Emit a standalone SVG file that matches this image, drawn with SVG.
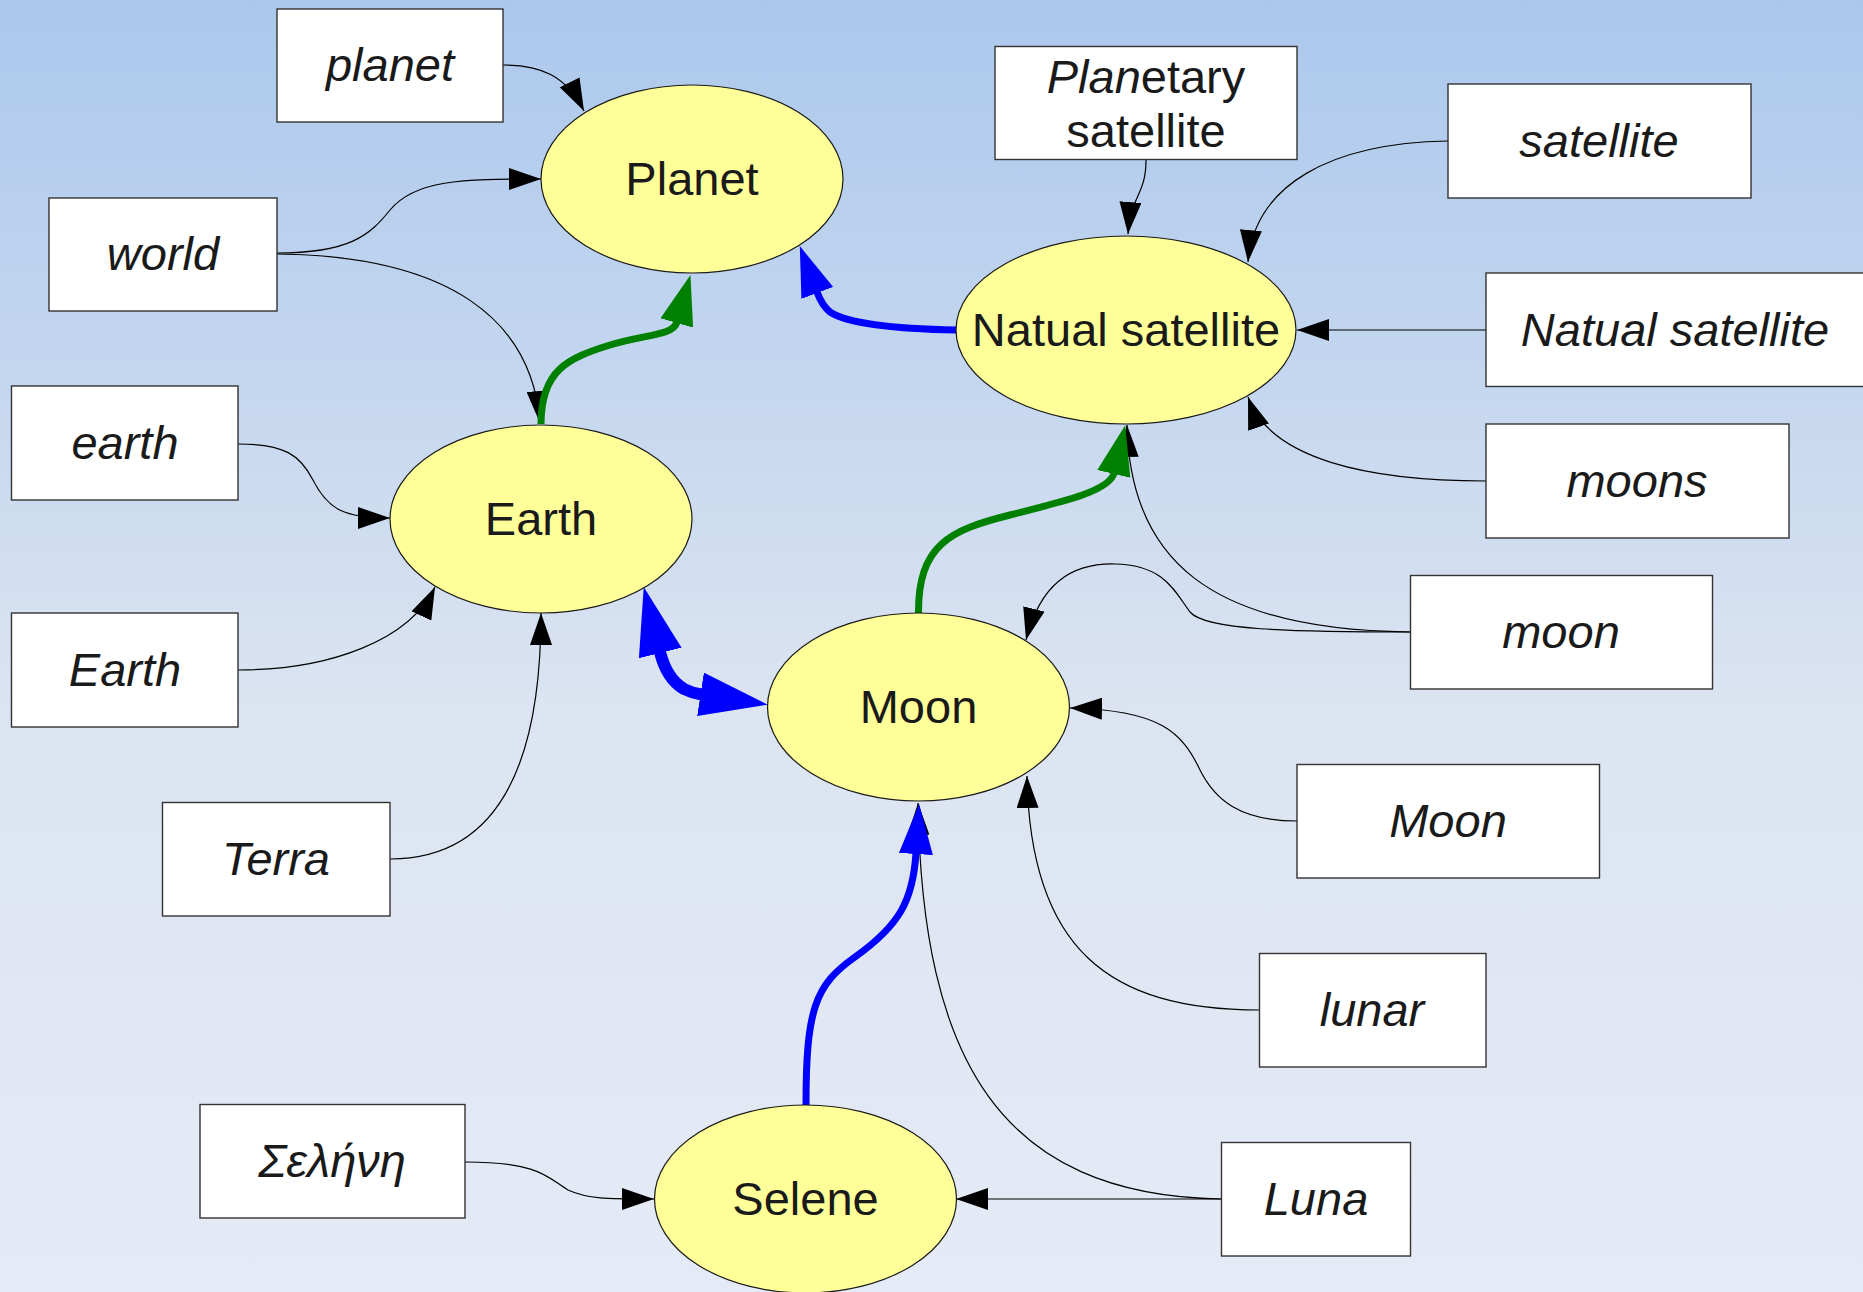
<svg xmlns="http://www.w3.org/2000/svg" width="1863" height="1292" viewBox="0 0 1863 1292">
<defs>
<linearGradient id="bg" x1="0" y1="0" x2="0" y2="1">
<stop offset="0" stop-color="#abc8ec"/>
<stop offset="0.3" stop-color="#c5d7ef"/>
<stop offset="0.55" stop-color="#dce4f1"/>
<stop offset="1" stop-color="#e5ebf6"/>
</linearGradient>
<marker id="ab" markerUnits="userSpaceOnUse" viewBox="0 0 32 22" markerWidth="32" markerHeight="22" refX="32" refY="11" orient="auto">
<path d="M0,0 L32,11 L0,22 z" fill="#000"/>
</marker>
<marker id="ag" markerUnits="userSpaceOnUse" viewBox="0 0 50 34" markerWidth="50" markerHeight="34" refX="1" refY="17" orient="auto">
<path d="M0,0 L50,17 L0,34 z" fill="#008000"/>
</marker>
<marker id="abl" markerUnits="userSpaceOnUse" viewBox="0 0 50 34" markerWidth="50" markerHeight="34" refX="1" refY="17" orient="auto">
<path d="M0,0 L50,17 L0,34 z" fill="#0000ff"/>
</marker>
<marker id="abig" markerUnits="userSpaceOnUse" viewBox="0 0 68 44" markerWidth="68" markerHeight="44" refX="1" refY="22" orient="auto-start-reverse">
<path d="M0,0 L68,22 L0,44 z" fill="#0000ff"/>
</marker>
</defs>
<style>
.box{fill:#ffffff;stroke:#333;stroke-width:1.4}
.ell{fill:#ffff99;stroke:#1a1a1a;stroke-width:1.2}
.t{font-family:"Liberation Sans",Arial,sans-serif;font-size:47px;fill:#1a1a1a;text-anchor:middle}
.i{font-style:italic}
.thin{fill:none;stroke:#000;stroke-width:1.2;marker-end:url(#ab)}
.green{fill:none;stroke:#008000;stroke-width:7;marker-end:url(#ag)}
.blue{fill:none;stroke:#0000ff;stroke-width:7;marker-end:url(#abl)}
</style>
<rect x="0" y="0" width="1863" height="1292" fill="url(#bg)"/>

<g id="connectors">
<path class="thin" d="M503,65 C540,65 566,75 584,111"/>
<path class="thin" d="M277,253 C350,253 370,235 390,210 C415,180 460,179 541,179"/>
<path class="thin" d="M277,254 C450,256 532,320 540,423"/>
<path class="thin" d="M238,444 C285,444 300,455 313,480 C328,510 345,518 390,518"/>
<path class="thin" d="M238,670 C330,670 410,640 435,587"/>
<path class="thin" d="M390,859 C500,859 541,760 541,613"/>
<path class="thin" d="M1146,160 C1146,195 1131,195 1128,234"/>
<path class="thin" d="M1448,141 C1330,143 1255,185 1248,262"/>
<path class="thin" d="M1486,330 L1297,330"/>
<path class="thin" d="M1486,481 C1370,481 1270,460 1248,397"/>
<path class="thin" d="M1410,632 C1210,630 1130,560 1127,425"/>
<path class="thin" d="M1410,632 C1290,632 1205,630 1190,612 C1175,592 1165,565 1115,564 C1070,563 1040,585 1026,640"/>
<path class="thin" d="M1297,821 C1240,821 1215,800 1200,770 C1182,732 1160,710 1070,708"/>
<path class="thin" d="M1259,1010 C1110,1010 1030,950 1027,776"/>
<path class="thin" d="M1221,1199 C1000,1195 922,1060 918,803"/>
<path class="thin" d="M1221,1199 L956,1199"/>
<path class="thin" d="M465,1162 C540,1162 548,1178 568,1190 C588,1199 605,1199 654,1199"/>
<path class="green" d="M541,424 C541,370 568,358 610,345 C645,334 673,336 677,322"/>
<path class="blue" d="M957,330 C900,329 850,325 830,312 C824,307 820,300 817,292"/>
<path fill="none" stroke="#0000ff" stroke-width="12" marker-start="url(#abig)" marker-end="url(#abig)" d="M660,652 C664,668 672,682 684,689 C690,692 695,693.5 701.5,694.5"/>
<path class="blue" d="M806,1105 C806,1010 815,985 855,957 C900,925 913,900 916,853"/>
<path class="green" d="M918.5,613 C918,545 950,530 1010,515 C1070,500 1110,490 1114,473"/>
</g>

<g id="node-Planet"><ellipse class="ell" cx="692" cy="179" rx="151" ry="94"/><text class="t" x="692" y="195">Planet</text></g>
<g id="node-NatualSatellite"><ellipse class="ell" cx="1126" cy="330" rx="170" ry="94"/><text class="t" x="1126" y="346">Natual satellite</text></g>
<g id="node-Earth"><ellipse class="ell" cx="541" cy="519" rx="151" ry="94"/><text class="t" x="541" y="535">Earth</text></g>
<g id="node-Moon"><ellipse class="ell" cx="918.5" cy="707" rx="151" ry="94"/><text class="t" x="918.5" y="723">Moon</text></g>
<g id="node-Selene"><ellipse class="ell" cx="805.5" cy="1199" rx="151" ry="94"/><text class="t" x="805.5" y="1215">Selene</text></g>

<g id="box-planet"><rect class="box" x="277" y="9" width="226" height="113"/><text class="t i" x="390" y="81">planet</text></g>
<g id="box-world"><rect class="box" x="49" y="198" width="228" height="113"/><text class="t i" x="163" y="270">world</text></g>
<g id="box-earth"><rect class="box" x="11.5" y="386" width="226.5" height="114"/><text class="t i" x="125" y="459">earth</text></g>
<g id="box-Earth"><rect class="box" x="11.5" y="613" width="226.5" height="114"/><text class="t i" x="125" y="686">Earth</text></g>
<g id="box-Terra"><rect class="box" x="162.5" y="802.5" width="227.5" height="113.5"/><text class="t i" x="276" y="875">Terra</text></g>
<g id="box-Selini"><rect class="box" x="200" y="1104.5" width="265" height="113.5"/><text class="t i" x="332" y="1177">Σελήνη</text></g>
<g id="box-PlanetarySatellite"><rect class="box" x="995" y="46.5" width="302" height="113"/><text class="t" x="1146" y="93"><tspan font-style="italic">Plan</tspan>etary</text><text class="t" x="1146" y="147">satellite</text></g>
<g id="box-satellite"><rect class="box" x="1448" y="84" width="303" height="114"/><text class="t i" x="1599" y="157">satellite</text></g>
<g id="box-NatualSatellite"><rect class="box" x="1486" y="273" width="390" height="113.5"/><text class="t i" x="1675" y="346">Natual satellite</text></g>
<g id="box-moons"><rect class="box" x="1486" y="424" width="303" height="114"/><text class="t i" x="1637" y="497">moons</text></g>
<g id="box-moon"><rect class="box" x="1410.5" y="575.5" width="302" height="113.5"/><text class="t i" x="1561" y="648">moon</text></g>
<g id="box-Moon"><rect class="box" x="1297" y="764.5" width="302.5" height="113.5"/><text class="t i" x="1448" y="837">Moon</text></g>
<g id="box-lunar"><rect class="box" x="1259.5" y="953.5" width="226.5" height="113.5"/><text class="t i" x="1372" y="1026">lunar</text></g>
<g id="box-Luna"><rect class="box" x="1221.5" y="1142.5" width="189" height="113.5"/><text class="t i" x="1316" y="1215">Luna</text></g>
</svg>
